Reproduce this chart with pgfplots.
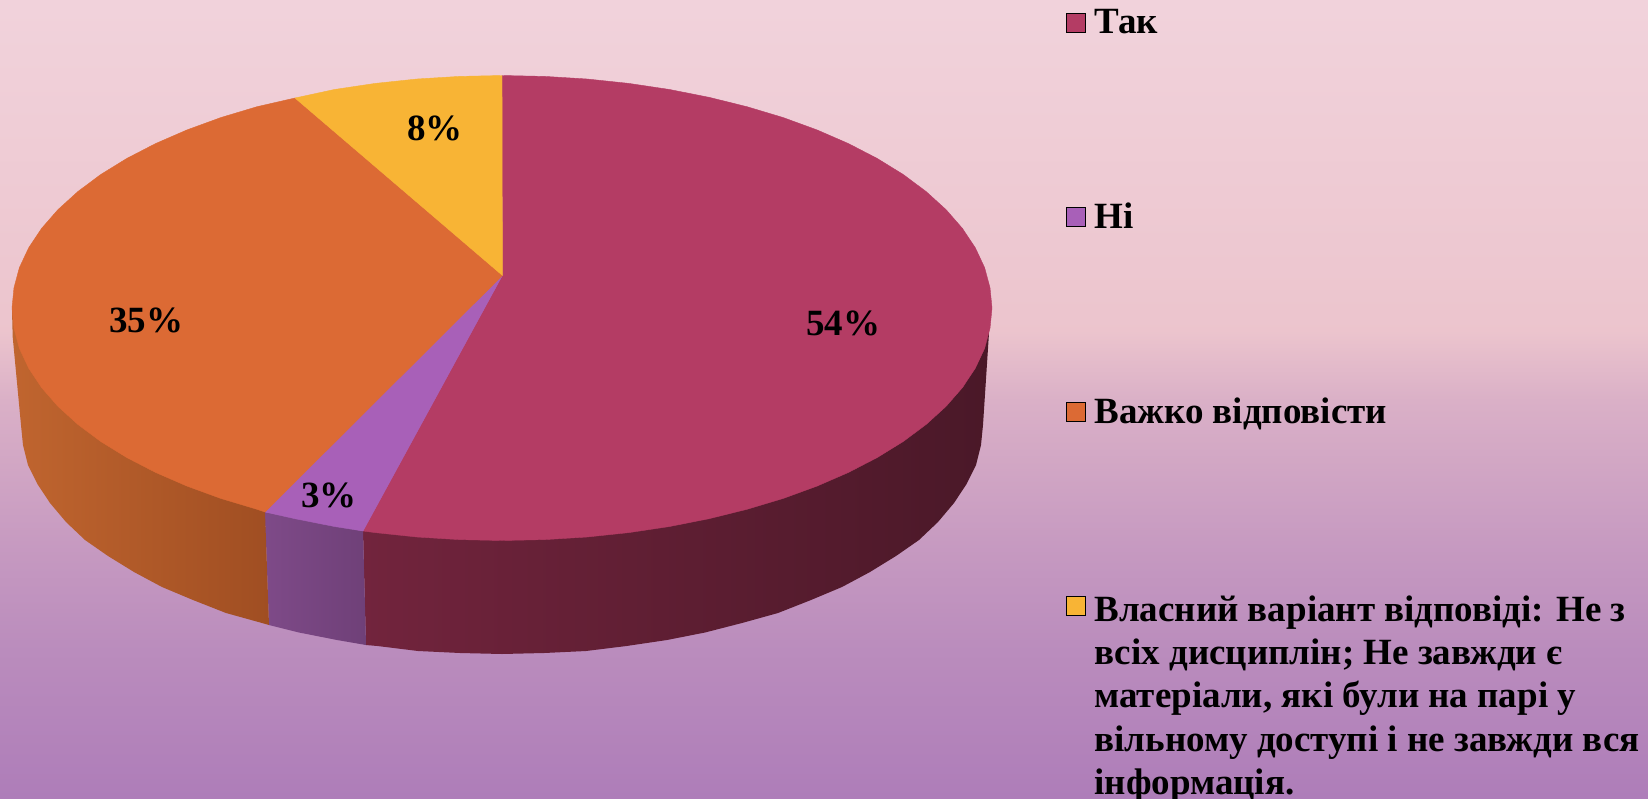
\documentclass[border=0pt]{standalone}
\usepackage{fontspec}
\setmainfont{Liberation Serif}
\usepackage{pgfplots}
\pgfplotsset{compat=1.18}
\definecolor{tak}{HTML}{B43C64}
\definecolor{ni}{HTML}{A860B8}
\definecolor{vazhko}{HTML}{DC6A34}
\definecolor{vlasnyi}{HTML}{F8B435}
\definecolor{takL}{HTML}{72243D}
\definecolor{takR}{HTML}{4A1828}
\definecolor{niL}{HTML}{7E4A88}
\definecolor{niR}{HTML}{6F4078}
\definecolor{vazhkoL}{HTML}{C0652F}
\definecolor{vazhkoR}{HTML}{A04E22}
\pgfdeclareverticalshading{bgshade}{100bp}{
 rgb(0bp)=(.682,.49,.725);
 rgb(25bp)=(.682,.49,.725);
 rgb(34.3bp)=(.73,.55,.74);
 rgb(40.5bp)=(.775,.60,.755);
 rgb(49.9bp)=(.855,.69,.78);
 rgb(54.3bp)=(.925,.77,.805);
 rgb(75bp)=(.945,.825,.86);
 rgb(100bp)=(.945,.825,.86)}
\begin{document}
\begin{tikzpicture}
\begin{axis}[
  scale only axis, width=824pt, height=399pt,
  xmin=0, xmax=1648, ymin=0, ymax=798, y dir=reverse,
  hide axis, clip=true]
% background
\addplot[draw=none, shade, shading=bgshade] coordinates {(0,0) (1648,0) (1648,798) (0,798)};
% side walls
\addplot[draw=none, left color=takL, middle color=takR, right color=takR] coordinates {
 (363,531) (989,333) (983,425) (981,445) (976,465) (966.6,484) (954,503) (938,522) (919,540) (896,556) (870,572) (842,587) (811,600) (778,613) (742,623) (705,632.5) (667,640) (626.5,646) (586,651) (544,653) (502,654) (460,653) (418,651) (377.5,646) (366,645)};
\addplot[draw=none, left color=niL, right color=niR] coordinates {
 (265,512) (363,531) (366,645) (337,640) (299,632.5) (269,625)};
\addplot[draw=none, left color=vazhkoL, right color=vazhkoR] coordinates {
 (12,310) (265,512) (269,625) (262,623) (226,613) (193,600) (162,587) (134,572) (108,556) (85,540) (66,522) (50,503) (37.4,484) (28,465) (23,445) (21,425) (12.7,337)};
% top face
\addplot[fill=tak, draw=tak, line width=.2pt] coordinates {
 (502.4,275.4) (502,75.5) (544.7,76.4) (587,79) (628.8,83.4) (669.6,89.5) (709,97.3) (747,106.7) (783,117.5) (817,129.9) (848.5,143.6) (877.3,158.5) (903.4,174.6) (926.3,191.7) (946.1,209.7) (962.5,228.5) (975.3,247.8) (984.6,267.6) (990,287.7) (992,308) (990,328.3) (984.6,348.4) (975.3,368.2) (962.5,387.5) (946.1,406.3) (926.3,424.3) (903.4,441.4) (877.3,457.5) (848.5,472.4) (817,486.1) (783,498.5) (747,509.3) (709,518.7) (669.6,526.5) (628.8,532.6) (587,537) (544.7,539.6) (502,540.5) (459.3,539.6) (417,537) (375.2,532.6) (363,531)} -- cycle;
\addplot[fill=ni, draw=ni, line width=.2pt] coordinates {
 (502.4,275.4) (363,531) (334.4,526.5) (295,518.7) (265,512)} -- cycle;
\addplot[fill=vazhko, draw=vazhko, line width=.2pt] coordinates {
 (502.4,275.4) (265,512) (257,509.3) (221,498.5) (187,486.1) (155.5,472.4) (126.7,457.5) (100.6,441.4) (77.7,424.3) (57.9,406.3) (41.5,387.5) (28.7,368.2) (19.4,348.4) (14,328.3) (12,308) (14,287.7) (19.4,267.6) (28.7,247.8) (41.5,228.5) (57.9,209.7) (77.7,191.7) (100.6,174.6) (126.7,158.5) (155.5,143.6) (187,129.9) (221,117.5) (257,106.7) (295,98)} -- cycle;
\addplot[fill=vlasnyi, draw=vlasnyi, line width=.2pt] coordinates {
 (502.4,275.4) (295,98) (334.4,89.5) (375.2,83.4) (417,79) (459.3,76.4) (502,75.5)} -- cycle;
% legend keys
\addplot[only marks, mark=square*, mark size=4.75pt, mark options={draw=none, fill=tak}] coordinates {(1075.5,23)};
\addplot[only marks, mark=square*, mark size=4.75pt, mark options={draw=none, fill=ni}] coordinates {(1075.5,217)};
\addplot[only marks, mark=square*, mark size=4.75pt, mark options={draw=none, fill=vazhko}] coordinates {(1075.5,411.5)};
\addplot[only marks, mark=square*, mark size=4.75pt, mark options={draw=none, fill=vlasnyi}] coordinates {(1075.5,605.5)};
% data labels
\tikzset{lab/.style={font=\fontsize{18.5}{20}\selectfont\bfseries, inner sep=0pt, anchor=center},
 leg/.style={font=\fontsize{18.5}{21.7}\selectfont\bfseries, inner sep=0pt, anchor=base west, align=left}}
\node[lab] at (axis cs:843,323) {54\%};
\node[lab] at (axis cs:146,320) {35\%};
\node[lab] at (axis cs:435,128) {8\%};
\node[lab] at (axis cs:329,495) {3\%};
% legend text
\node[leg] at (axis cs:1094,33) {Так};
\node[leg] at (axis cs:1094,228) {Ні};
\node[leg] at (axis cs:1094,423) {Важко відповісти};
\node[inner sep=0pt, anchor=north west, align=left, font=\fontsize{18.5}{21.7}\selectfont\bfseries] at (axis cs:1094,595) {Власний варіант відповіді: Не з\\всіх дисциплін; Не завжди є\\матеріали, які були на парі у\\вільному доступі і не завжди вся\\інформація.};
\end{axis}
\end{tikzpicture}
\end{document}
